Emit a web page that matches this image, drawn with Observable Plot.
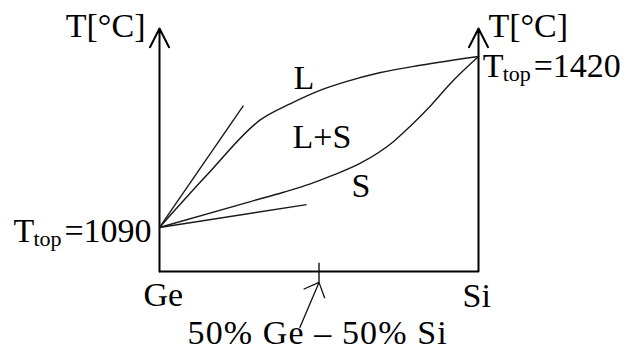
<!DOCTYPE html>
<html>
<head>
<meta charset="utf-8">
<script src="https://cdn.jsdelivr.net/npm/d3@7"></script>
<script src="https://cdn.jsdelivr.net/npm/@observablehq/plot@0.6"></script>
<style>
  html, body { margin: 0; padding: 0; background: #fff; }
</style>
</head>
<body>
<div id="chart"></div>
<script>
// ---- data (x = fraction of Si, T in °C) ----
const endMembers = ["Ge", "Si"];
const meltX = [0, 1];
const meltT = [1090, 1420];

const liquidusX = [0, 0.150, 0.317, 0.411, 0.505, 0.577, 0.693, 0.818, 1];
const liquidusT = [1090, 1192, 1298, 1329, 1355, 1370, 1389, 1403, 1420];

const solidusX = [0, 0.285, 0.389, 0.473, 0.536, 0.630, 0.734, 0.787, 0.850, 0.912, 1];
const solidusT = [1090, 1140, 1158, 1174, 1189, 1214, 1256, 1286, 1325, 1368, 1420];

// tangent lines starting at the Ge melting point
const tangentX = [0.263, 0.461];
const tangentT = [1325, 1134];

const yDomain = [1005, 1474];

const phaseLabels = ["L", "L+S", "S"];
const phaseX = [0.420, 0.417, 0.602];
const phaseT = [1358, 1244, 1148];

const axisTitle = "T[°C]";
const axisTitleX = [-0.044, 1.031];
const axisTitleT = 1457;

const meltLabelX = [-0.458, 1.013];
const meltLabelT = [1061, 1381];

const endLabelX = [-0.050, 0.950];
const endLabelT = [939, 936];

const markX = 0.5;
const markTickT = [1022, 984];
const markArrowTailX = 0.44;
const markArrowTailT = 897;
const markLabel = "50% Ge \u2013 50% Si";
const markLabelX = 0.088;
const markLabelT = 866;

// ---- tables built from the arrays ----
const liquidus = liquidusX.map((x, i) => ({x, T: liquidusT[i]}));
const solidus = solidusX.map((x, i) => ({x, T: solidusT[i]}));
const tangents = tangentX.map((x, i) => ({x1: meltX[0], y1: meltT[0], x2: x, y2: tangentT[i]}));
const phases = phaseLabels.map((t, i) => ({t, x: phaseX[i], T: phaseT[i]}));
const meltLabels = meltT.map((T, i) => ({T, x: meltLabelX[i], y: meltLabelT[i]}));
const ends = endMembers.map((t, i) => ({t, x: endLabelX[i], T: endLabelT[i]}));
const axes = meltX.map(x => ({x, y1: yDomain[0], y2: yDomain[1]}));

const font = "Liberation Serif, Times New Roman, serif";
const fs = 34;

const chart = Plot.plot({
  width: 628,
  height: 351,
  marginLeft: 159,
  marginRight: 150,
  marginTop: 28,
  marginBottom: 80,
  x: {domain: [0, 1], axis: null},
  y: {domain: yDomain, axis: null},
  style: {fontFamily: font, background: "#fff", color: "#000"},
  marks: [
    // axes
    Plot.arrow(axes, {x: "x", y1: "y1", y2: "y2", stroke: "#000", strokeWidth: 2, headLength: 15.75, headAngle: 54}),
    Plot.ruleY([yDomain[0]], {x1: meltX[0], x2: meltX[1], stroke: "#000", strokeWidth: 2}),
    // 50% tick and pointer arrow
    Plot.link([markX], {x1: d => d, x2: d => d, y1: markTickT[0], y2: markTickT[1], stroke: "#111", strokeWidth: 1.4}),
    Plot.arrow([markX], {x1: markArrowTailX, y1: markArrowTailT, x2: d => d, y2: markTickT[1], stroke: "#111", strokeWidth: 1.3, headLength: 23, headAngle: 86}),
    // tangents
    Plot.link(tangents, {x1: "x1", y1: "y1", x2: "x2", y2: "y2", stroke: "#1a1a1a", strokeWidth: 1.4}),
    // liquidus & solidus
    Plot.line(liquidus, {x: "x", y: "T", curve: "monotone-x", stroke: "#1a1a1a", strokeWidth: 1.5}),
    Plot.line(solidus, {x: "x", y: "T", curve: "monotone-x", stroke: "#1a1a1a", strokeWidth: 1.4}),
    // axis titles
    Plot.text([axisTitle], {x: axisTitleX[0], y: axisTitleT, text: d => d, textAnchor: "end", lineAnchor: "bottom", fontSize: fs, fill: "#000"}),
    Plot.text([axisTitle], {x: axisTitleX[1], y: axisTitleT, text: d => d, textAnchor: "start", lineAnchor: "bottom", fontSize: fs, fill: "#000"}),
    // melting point labels T_top=...
    Plot.text(meltLabels, {x: "x", y: "y", text: () => "T", textAnchor: "start", lineAnchor: "bottom", fontSize: fs, fill: "#000"}),
    Plot.text(meltLabels, {x: "x", y: "y", text: () => "top", textAnchor: "start", lineAnchor: "bottom", fontSize: 22, dx: 20, dy: 4, fill: "#000"}),
    Plot.text(meltLabels, {x: "x", y: "y", text: d => "=" + d.T, textAnchor: "start", lineAnchor: "bottom", fontSize: fs, dx: 51, fill: "#000"}),
    // phase labels
    Plot.text(phases, {x: "x", y: "T", text: "t", textAnchor: "start", lineAnchor: "bottom", fontSize: fs, fill: "#000"}),
    // end members
    Plot.text(ends, {x: "x", y: "T", text: "t", textAnchor: "start", lineAnchor: "bottom", fontSize: fs, fill: "#000"}),
    // composition label
    Plot.text([markLabel], {x: markLabelX, y: markLabelT, text: d => d, textAnchor: "start", lineAnchor: "bottom", fontSize: fs, fill: "#000"})
  ]
});
d3.select(chart).selectAll("text")
  .filter(function () { return this.textContent === markLabel; })
  .attr("letter-spacing", "1.1px");
document.getElementById("chart").appendChild(chart);
</script>
</body>
</html>
